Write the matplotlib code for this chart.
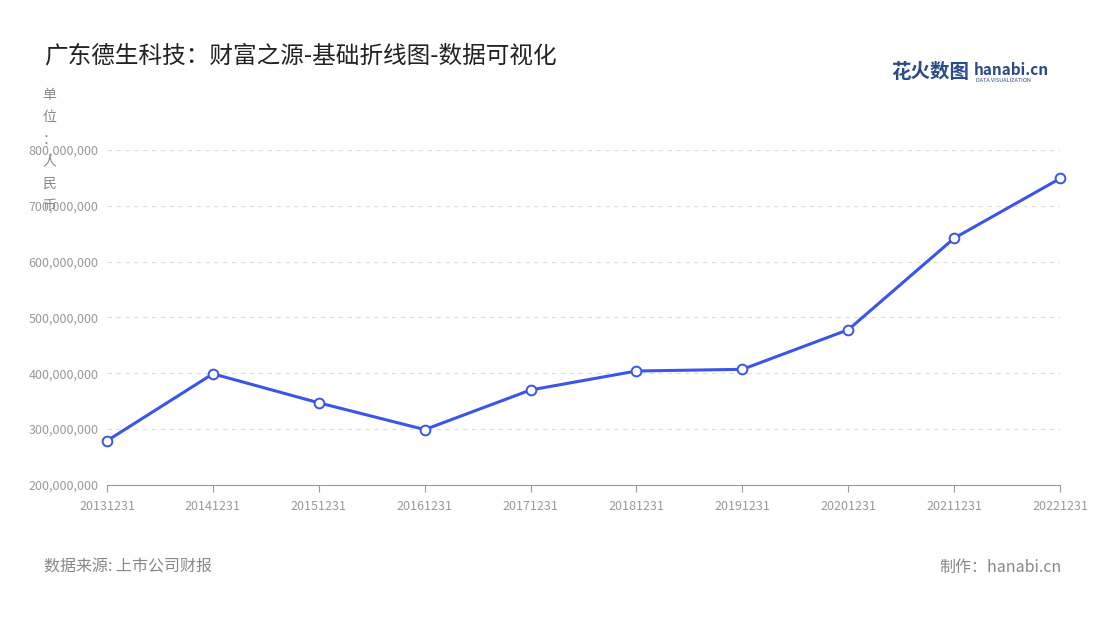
import matplotlib
matplotlib.use("Agg")
import matplotlib.pyplot as plt
from matplotlib.ticker import FuncFormatter

plt.rcParams['font.family'] = ['Noto Sans CJK SC', 'DejaVu Sans']

dates = ["20131231","20141231","20151231","20161231","20171231","20181231","20191231","20201231","20211231","20221231"]
values = [279e6, 399e6, 347e6, 299e6, 370e6, 404e6, 407e6, 478e6, 642e6, 749e6]

fig = plt.figure(figsize=(11, 6.2), dpi=100)
ax = fig.add_axes([0.0973, 0.218, 0.8664, 0.540])
x = list(range(len(dates)))
ax.plot(x, values, color='#3b55e6', lw=2.2, marker='o', ms=7,
        markerfacecolor='white', markeredgecolor='#3b55e6', markeredgewidth=1.4, zorder=3, clip_on=False)
ax.set_xlim(0, len(dates)-1)
ax.set_ylim(200e6, 800e6)
ax.set_yticks([200e6,300e6,400e6,500e6,600e6,700e6,800e6])
ax.yaxis.set_major_formatter(FuncFormatter(lambda v, p: f"{int(v):,}"))
ax.set_xticks(x)
ax.set_xticklabels(dates)
ax.tick_params(axis='both', colors='#999999', labelsize=9, length=0, pad=6)
ax.tick_params(axis='x', length=5, color='#999999')
ax.grid(axis='y', color='#dddddd', ls=(0,(4,4)), lw=0.8)
for s in ['top','right','left']:
    ax.spines[s].set_visible(False)
ax.spines['bottom'].set_color('#999999')

fig.text(0.04, 0.91, "广东德生科技：财富之源-基础折线图-数据可视化", fontsize=17, color='#222222', va='center')
fig.text(0.045, 0.858, "单\n位\n：\n人\n民\n币", fontsize=10, color='#888888', ha='center', va='top', linespacing=1.75)
fig.text(0.04, 0.085, "数据来源: 上市公司财报", fontsize=11.5, color='#888888', va='center')
fig.text(0.965, 0.085, "制作：hanabi.cn", fontsize=11.5, color='#888888', va='center', ha='right')
fig.text(0.81, 0.883, "花火数图", fontsize=14, color='#2a4a8a', va='center', fontweight='bold')
fig.text(0.885, 0.887, "hanabi.cn", fontsize=11, color='#2a4a8a', va='center', fontweight='bold')
fig.text(0.887, 0.870, "DATA VISUALIZATION", fontsize=4, color='#2a4a8a', va='center')

fig.savefig("out.png", dpi=100)
